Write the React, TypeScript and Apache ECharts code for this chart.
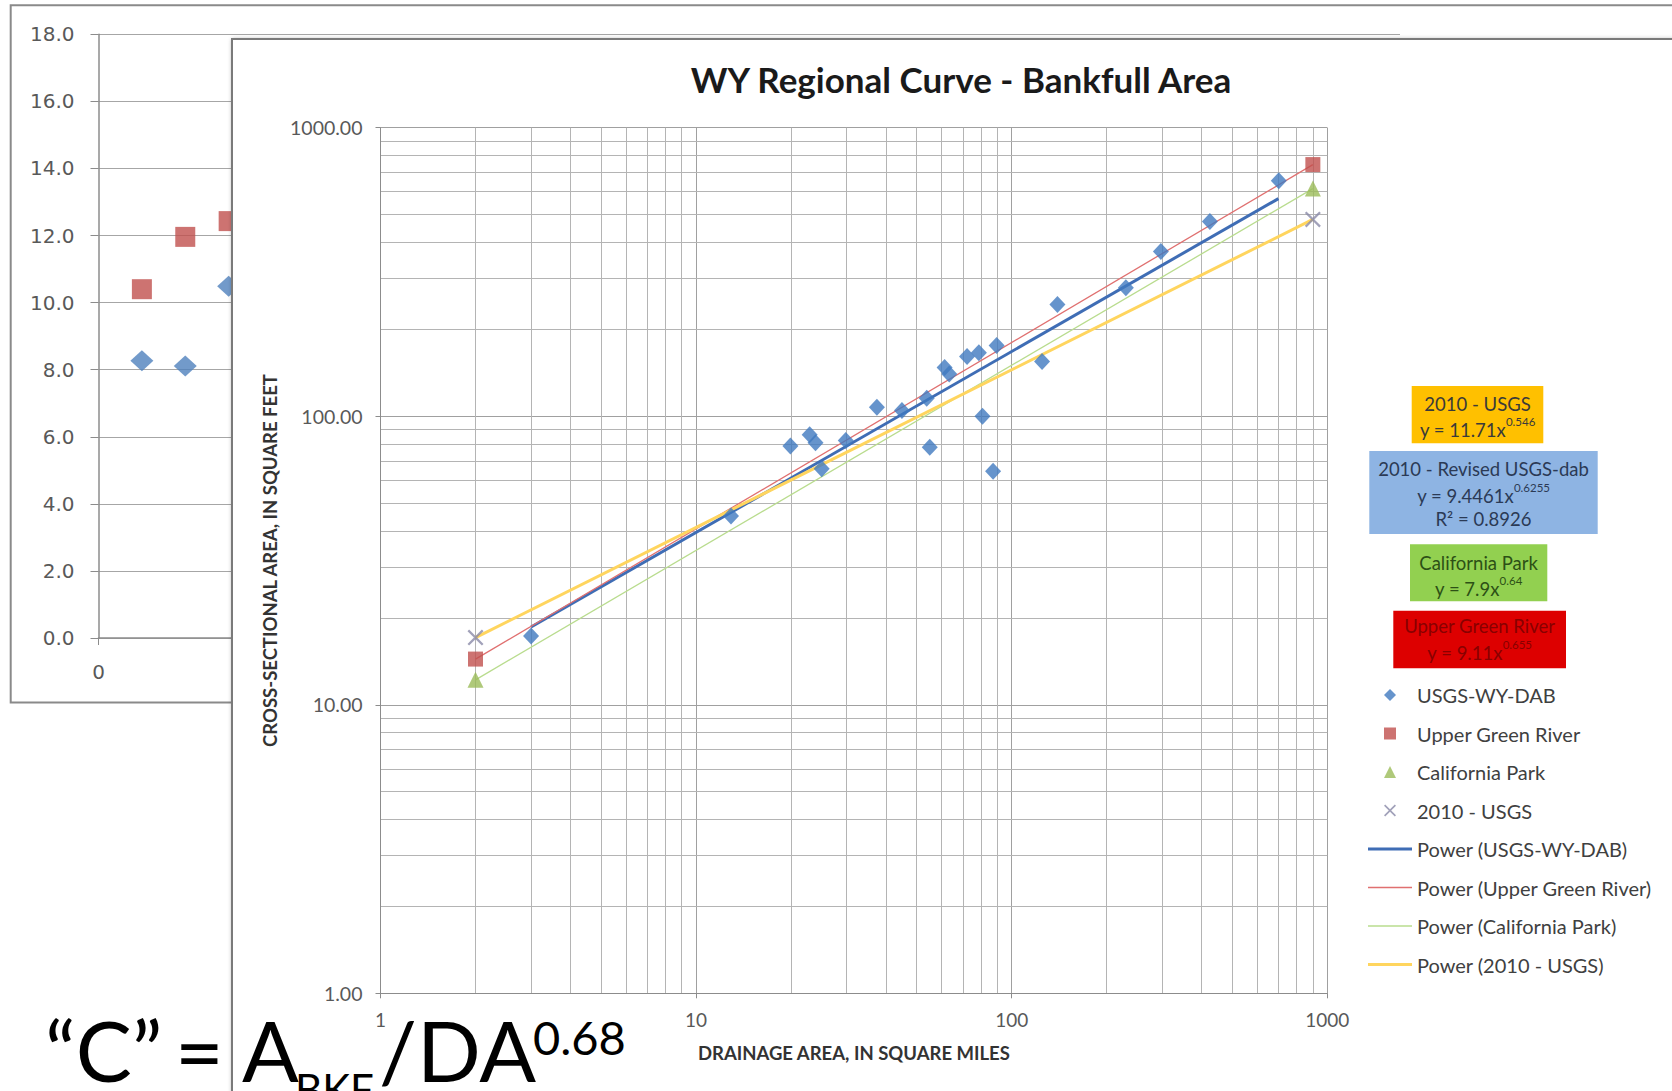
import React, { useEffect, useRef } from 'react';
import * as echarts from 'echarts';

// ---------- background chart (partly hidden) ----------
const bgX = [1, 2, 3];
const bgBlueY = [8.27, 8.11, 10.49];
const bgRedY = [10.4, 11.96, 12.43];

// ---------- foreground log-log chart ----------
const usgsWyDabX = [3, 12.9, 19.9, 22.9, 23.9, 25.0, 29.8, 37.4, 44.9, 53.8, 55.0, 61.3, 63.4, 72.2, 78.7, 80.8, 87.3, 89.6, 124.8, 139.6, 230, 297, 424.6, 702];
const usgsWyDabY = [17.3, 45.1, 78.8, 86.2, 80.9, 65.8, 82.4, 107.4, 104.6, 115.4, 78, 147.6, 140, 161, 166, 100, 64.5, 176, 154.8, 243.8, 278.6, 372.5, 472.9, 655];
const upperGreenX = [2, 900];
const upperGreenY = [14.4, 745];
const californiaX = [2, 900];
const californiaY = [12.2, 615];
const usgs2010X = [2, 900];
const usgs2010Y = [17.1, 481];

// trend line end points
const trendUsgsWyDabX = [3, 700];
const trendUsgsWyDabY = [18.6, 568];
const trendUpperGreenX = [2, 900];
const trendUpperGreenY = [14.4, 745];
const trendCaliforniaX = [2, 900];
const trendCaliforniaY = [12.2, 615];
const trend2010X = [2, 900];
const trend2010Y = [17.1, 481];

const minorGridX = [2, 3, 4, 5, 6, 7, 8, 9, 20, 30, 40, 50, 60, 70, 80, 90, 200, 300, 400, 500, 600, 700, 800, 900];
const minorGridY = [2, 3, 4, 5, 6, 7, 8, 9, 20, 30, 40, 50, 60, 70, 80, 90, 200, 300, 400, 500, 600, 700, 800, 900];

const DIAMOND_ICON = 'path://M5,0 L10,5 L5,10 L0,5 Z';
const SQUARE_ICON = 'path://M0,0 L10,0 L10,10 L0,10 Z';
const TRIANGLE_ICON = 'path://M5,0 L10,10 L0,10 Z';
const X_PATH = 'path://M1,0 L5,4 L9,0 L10,1 L6,5 L10,9 L9,10 L5,6 L1,10 L0,9 L4,5 L0,1 Z';
const THICK_LINE_ICON = 'path://M0,0 L44,0 L44,3 L0,3 Z';
const THIN_LINE_ICON = 'path://M0,0 L44,0 L44,1.4 L0,1.4 Z';

const legendItems = [
  { name: 'USGS-WY-DAB', icon: DIAMOND_ICON },
  { name: 'Upper Green River', icon: SQUARE_ICON },
  { name: 'California Park', icon: TRIANGLE_ICON },
  { name: '2010 - USGS', icon: X_PATH },
  { name: 'Power (USGS-WY-DAB)', icon: THICK_LINE_ICON },
  { name: 'Power (Upper Green River)', icon: THIN_LINE_ICON },
  { name: 'Power (California Park)', icon: THIN_LINE_ICON },
  { name: 'Power (2010 - USGS)', icon: THICK_LINE_ICON },
];

const zip = (xs: number[], ys: number[]) => xs.map((x, i) => [x, ys[i]]);

const FONT = 'Lato, "Open Sans", sans-serif';

const boxText = (x: number, y: number, text: string, fill: string, rich?: any) => ({
  type: 'text',
  z: 30,
  style: {
    text,
    x,
    y,
    fill,
    fontFamily: FONT,
    fontSize: 18.5,
    align: 'center',
    textAlign: 'center',
    verticalAlign: 'middle',
    textVerticalAlign: 'middle',
    rich,
  },
});

const supRich = (fill: string) => ({
  a: { fontFamily: FONT, fontSize: 18.5, lineHeight: 24, fill, verticalAlign: 'bottom' },
  b: { fontFamily: FONT, fontSize: 11.5, lineHeight: 13, fill, verticalAlign: 'top' },
});

const formulaText = (x: number, y: number, text: string, size: number, lh: number) => ({
  type: 'text',
  z: 40,
  style: {
    text,
    x,
    y,
    fill: '#000000',
    fontFamily: FONT,
    fontSize: size,
    lineHeight: lh,
    align: 'left',
    textAlign: 'left',
    verticalAlign: 'middle',
    textVerticalAlign: 'middle',
  },
});

export default function App() {
  const ref = useRef<HTMLDivElement>(null);

  useEffect(() => {
    if (!ref.current) return;
    const chart = echarts.init(ref.current, null, { renderer: 'svg' });

    const option: any = {
      animation: false,
      backgroundColor: '#ffffff',
      title: {
        text: 'WY Regional Curve - Bankfull Area',
        left: 956,
        top: 56,
        textAlign: 'center',
        z: 20,
        textStyle: { fontFamily: FONT, fontWeight: 'bold', fontSize: 35, color: '#1a1a1a' },
      },
      grid: [
        { left: 98.5, top: 34.3, right: 272, bottom: 453, outerBoundsMode: 'none' },
        { left: 380.5, top: 127.7, right: 344.7, bottom: 97.7, outerBoundsMode: 'none' },
      ],
      xAxis: [
        {
          type: 'value',
          gridIndex: 0,
          min: 0,
          max: 30,
          interval: 5,
          z: 1,
          axisLine: { show: true, onZero: false, lineStyle: { color: '#8C8C8C', width: 1.5 } },
          axisTick: { show: true, length: 7, customValues: [0], lineStyle: { color: '#8C8C8C' } },
          axisLabel: { customValues: [0], margin: 24, fontFamily: 'DejaVu Sans', fontSize: 20, color: '#595959' },
          splitLine: { show: false },
        },
        {
          type: 'log',
          logBase: 10,
          gridIndex: 1,
          min: 1,
          max: 1000,
          splitNumber: 3,
          z: 11,
          axisLine: { show: true, onZero: false, lineStyle: { color: '#8C8C8C', width: 1 } },
          axisTick: { show: true, length: 5, lineStyle: { color: '#8C8C8C' } },
          axisLabel: { margin: 17, fontFamily: FONT, fontSize: 19, color: '#595959', formatter: (v: number) => String(v) },
          splitLine: { show: true, lineStyle: { color: '#A0A0A0', width: 1 } },
          name: 'DRAINAGE AREA, IN SQUARE MILES',
          nameLocation: 'middle',
          nameGap: 50,
          nameTextStyle: { fontFamily: FONT, fontWeight: 'bold', fontSize: 18.5, color: '#333333' },
        },
      ],
      yAxis: [
        {
          type: 'value',
          gridIndex: 0,
          min: 0,
          max: 18,
          interval: 2,
          z: 1,
          axisLine: { show: true, lineStyle: { color: '#8C8C8C', width: 1.5 } },
          axisTick: { show: true, length: 8, lineStyle: { color: '#8C8C8C' } },
          axisLabel: { margin: 24, fontFamily: 'DejaVu Sans', fontSize: 20, color: '#595959', formatter: (v: number) => v.toFixed(1) },
          splitLine: { show: true, lineStyle: { color: '#A6A6A6', width: 1.2 } },
        },
        {
          type: 'log',
          logBase: 10,
          gridIndex: 1,
          min: 1,
          max: 1000,
          splitNumber: 3,
          z: 11,
          axisLine: { show: true, onZero: false, lineStyle: { color: '#8C8C8C', width: 1 } },
          axisTick: { show: true, length: 5, lineStyle: { color: '#8C8C8C' } },
          axisLabel: { margin: 18, fontFamily: FONT, fontSize: 19.5, color: '#595959', formatter: (v: number) => v.toFixed(2) },
          splitLine: { show: true, lineStyle: { color: '#A0A0A0', width: 1 } },
          name: 'CROSS-SECTIONAL AREA, IN SQUARE FEET',
          nameLocation: 'middle',
          nameGap: 100,
          nameRotate: 90,
          nameTextStyle: { fontFamily: FONT, fontWeight: 'bold', fontSize: 18.5, color: '#333333' },
        },
      ],
      legend: {
        show: true,
        orient: 'vertical',
        left: 1363,
        top: 680,
        itemWidth: 44,
        itemHeight: 12,
        itemGap: 18.5,
        z: 20,
        data: legendItems,
        textStyle: { fontFamily: FONT, fontSize: 20, lineHeight: 18, color: '#404040' },
      },
      graphic: [
        {
          type: 'rect',
          z: 0,
          shape: { x: 10.7, y: 5.3, width: 1700, height: 697.2 },
          style: { fill: '#ffffff', stroke: '#8A8A8A', lineWidth: 2 },
        },
        {
          type: 'rect',
          z: 10,
          shape: { x: 232, y: 39, width: 1480, height: 1100 },
          style: {
            fill: '#ffffff',
            stroke: '#7A7A7A',
            lineWidth: 2,
            shadowBlur: 4,
            shadowColor: 'rgba(0,0,0,0.35)',
            shadowOffsetX: 1,
            shadowOffsetY: 1,
          },
        },
        // trend-line equation boxes
        { type: 'rect', z: 29, shape: { x: 1411.7, y: 386, width: 131.6, height: 57.3 }, style: { fill: '#FFC000' } },
        boxText(1477.5, 403.5, '2010 - USGS', '#3A3A3A'),
        boxText(1477.5, 427.5, '{a|y = 11.71x}{b|0.546}', '#3A3A3A', supRich('#3A3A3A')),

        { type: 'rect', z: 29, shape: { x: 1369.3, y: 451, width: 228.4, height: 83 }, style: { fill: '#8EB4E3' } },
        boxText(1483.5, 469, '2010 - Revised USGS-dab', '#2B3A55'),
        boxText(1483.5, 493, '{a|y = 9.4461x}{b|0.6255}', '#2B3A55', supRich('#2B3A55')),
        boxText(1483.5, 519, 'R\u00B2 = 0.8926', '#2B3A55'),

        { type: 'rect', z: 29, shape: { x: 1410, y: 544.3, width: 137.3, height: 57 }, style: { fill: '#92D050' } },
        boxText(1478.6, 562.5, 'California Park', '#2D5016'),
        boxText(1478.6, 586.5, '{a|y = 7.9x}{b|0.64}', '#2D5016', supRich('#2D5016')),

        { type: 'rect', z: 29, shape: { x: 1393.3, y: 610.7, width: 172.7, height: 57.6 }, style: { fill: '#DD0000' } },
        boxText(1479.6, 626, 'Upper Green River', '#880000'),
        boxText(1479.6, 650.5, '{a|y = 9.11x}{b|0.655}', '#880000', supRich('#880000')),

        // formula
        formulaText(45, 1049.5, '\u201CC\u201D', 84, 66),
        formulaText(175, 1049.5, '=', 84, 66),
        formulaText(242, 1049.5, 'A', 84, 66),
        formulaText(295, 1088.7, 'BKF', 42, 30),
        formulaText(379, 1049.5, '/DA', 84, 66),
        formulaText(533, 1037, '0.68', 47, 40),
      ],
      series: [
        {
          name: 'bg-usgs',
          type: 'scatter',
          xAxisIndex: 0,
          yAxisIndex: 0,
          z: 2,
          symbol: 'diamond',
          symbolSize: [23, 21],
          itemStyle: { color: '#4F81BD' },
          data: zip(bgX, bgBlueY),
        },
        {
          name: 'bg-ugr',
          type: 'scatter',
          xAxisIndex: 0,
          yAxisIndex: 0,
          z: 2,
          symbol: 'rect',
          symbolSize: 20,
          itemStyle: { color: '#C0504D' },
          data: zip(bgX, bgRedY),
        },
        {
          name: 'Power (USGS-WY-DAB)',
          type: 'line',
          xAxisIndex: 1,
          yAxisIndex: 1,
          z: 12,
          symbol: 'none',
          lineStyle: { color: '#3F6DB5', width: 3 },
          itemStyle: { color: '#3F6DB5' },
          data: zip(trendUsgsWyDabX, trendUsgsWyDabY),
          markLine: {
            z: 11,
            silent: true,
            symbol: ['none', 'none'],
            label: { show: false },
            lineStyle: { color: '#B4B4B4', width: 1, type: 'solid' },
            emphasis: { disabled: true },
            data: [...minorGridX.map((v) => ({ xAxis: v })), ...minorGridY.map((v) => ({ yAxis: v }))],
          },
        },
        {
          name: 'Power (Upper Green River)',
          type: 'line',
          xAxisIndex: 1,
          yAxisIndex: 1,
          z: 12,
          symbol: 'none',
          lineStyle: { color: '#E07070', width: 1.3 },
          itemStyle: { color: '#E07070' },
          data: zip(trendUpperGreenX, trendUpperGreenY),
        },
        {
          name: 'Power (California Park)',
          type: 'line',
          xAxisIndex: 1,
          yAxisIndex: 1,
          z: 12,
          symbol: 'none',
          lineStyle: { color: '#B9DC8E', width: 1.3 },
          itemStyle: { color: '#B9DC8E' },
          data: zip(trendCaliforniaX, trendCaliforniaY),
        },
        {
          name: 'Power (2010 - USGS)',
          type: 'line',
          xAxisIndex: 1,
          yAxisIndex: 1,
          z: 12,
          symbol: 'none',
          lineStyle: { color: '#FFD55E', width: 3 },
          itemStyle: { color: '#FFD55E' },
          data: zip(trend2010X, trend2010Y),
        },
        {
          name: 'USGS-WY-DAB',
          type: 'scatter',
          xAxisIndex: 1,
          yAxisIndex: 1,
          z: 13,
          symbol: 'diamond',
          symbolSize: [16, 17],
          itemStyle: { color: '#4079BF' },
          data: zip(usgsWyDabX, usgsWyDabY),
        },
        {
          name: 'Upper Green River',
          type: 'scatter',
          xAxisIndex: 1,
          yAxisIndex: 1,
          z: 13,
          symbol: 'rect',
          symbolSize: 15,
          itemStyle: { color: '#C0504D' },
          data: zip(upperGreenX, upperGreenY),
        },
        {
          name: 'California Park',
          type: 'scatter',
          xAxisIndex: 1,
          yAxisIndex: 1,
          z: 13,
          symbol: 'triangle',
          symbolSize: 16,
          itemStyle: { color: '#9BBB59' },
          data: zip(californiaX, californiaY),
        },
        {
          name: '2010 - USGS',
          type: 'scatter',
          xAxisIndex: 1,
          yAxisIndex: 1,
          z: 13,
          symbol: X_PATH,
          symbolSize: 16,
          itemStyle: { color: '#8A8AA8' },
          data: zip(usgs2010X, usgs2010Y),
        },
      ],
    };

    chart.setOption(option);
    return () => chart.dispose();
  }, []);

  return (
    <div
      ref={ref}
      style={{ position: 'absolute', left: 0, top: 0, width: 1672, height: 1091, background: '#ffffff' }}
    />
  );
}
